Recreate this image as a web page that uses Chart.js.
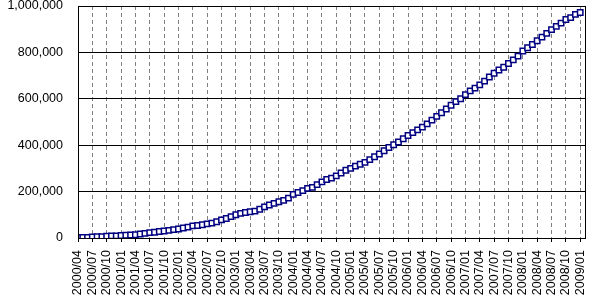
<!DOCTYPE html>
<html>
<head>
<meta charset="utf-8">
<script src="https://cdn.jsdelivr.net/npm/chart.js@4/dist/chart.umd.min.js"></script>
<style>
  html, body { margin: 0; padding: 0; background: #fff; }
  #wrap { width: 600px; height: 300px; }
</style>
</head>
<body>
<div id="wrap"><canvas id="myChart"></canvas></div>
<script>
// tick labels, one every 3 months starting 2000/04
const tickLabels = [
  '2000/04','2000/07','2000/10','2001/01','2001/04','2001/07','2001/10',
  '2002/01','2002/04','2002/07','2002/10','2003/01','2003/04','2003/07','2003/10',
  '2004/01','2004/04','2004/07','2004/10','2005/01','2005/04','2005/07','2005/10',
  '2006/01','2006/04','2006/07','2006/10','2007/01','2007/04','2007/07','2007/10',
  '2008/01','2008/04','2008/07','2008/10','2009/01'
]
// monthly totals, 2000/04 .. 2009/01
const monthlyValues = [
  1000, 2000, 2000, 5000, 6000, 6000, 8000, 9000, 9000, 11000,
  12000, 13000, 14000, 17000, 20000, 23000, 25000, 28000, 30000, 33000,
  36000, 39000, 43000, 47000, 52000, 54000, 57000, 61000, 64000, 70000,
  78000, 84000, 92000, 100000, 106000, 110000, 113000, 116000, 124000, 134000,
  142000, 149000, 156000, 162000, 172000, 188000, 196000, 204000, 214000, 218000,
  230000, 242000, 252000, 258000, 268000, 280000, 292000, 300000, 310000, 318000,
  326000, 338000, 350000, 362000, 376000, 390000, 402000, 414000, 428000, 442000,
  454000, 466000, 478000, 492000, 508000, 524000, 540000, 556000, 572000, 588000,
  600000, 618000, 634000, 646000, 660000, 676000, 694000, 710000, 724000, 736000,
  752000, 768000, 784000, 806000, 820000, 834000, 850000, 866000, 882000, 898000,
  912000, 926000, 942000, 950000, 964000, 972000
]
const yMax = 1000000
const yStep = 200000

const points = monthlyValues.map((v, i) => ({x: i, y: v}))

// frame around plot area (right edge)
const frame = {
    id: 'frame',
    afterDraw(chart) {
        const a = chart.chartArea
        const c = chart.ctx
        c.save()
        c.strokeStyle = '#000'
        c.lineWidth = 1
        c.strokeRect(Math.round(a.left) + 0.5, Math.round(a.top) + 0.5,
            Math.round(a.right - a.left), Math.round(a.bottom - a.top))
        c.restore()
    }
}

const ctx = document.getElementById('myChart')
new Chart(ctx, {
    type: 'line',
    data: {
        datasets: [{
            data: points,
            borderColor: '#000080',
            borderWidth: 1,
            pointStyle: 'rect',
            pointRadius: 3.8,
            pointBorderWidth: 1.5,
            pointBorderColor: '#000080',
            pointBackgroundColor: '#ffffff',
            tension: 0
        }]
    },
    options: {
        responsive: true,
        maintainAspectRatio: false,
        animation: false,
        layout: { padding: { top: 6, right: 15, left: 0, bottom: 0 } },
        plugins: {
            legend: { display: false },
            tooltip: { enabled: false }
        },
        scales: {
            x: {
                type: 'linear',
                min: 0,
                max: monthlyValues.length,
                afterBuildTicks: (scale) => {
                    scale.ticks = tickLabels.map((t, k) => ({value: k * 3}))
                },
                afterFit: (scale) => {
                    scale.height = 62
                    scale.paddingLeft = 0
                    scale.paddingRight = 0
                },
                grid: {
                    color: '#808080',
                    lineWidth: 1,
                    tickLength: 4,
                    tickColor: '#000'
                },
                border: { color: '#000', width: 1, dash: [4, 3] },
                ticks: {
                    autoSkip: false,
                    maxRotation: 90,
                    minRotation: 90,
                    padding: 8,
                    color: '#000',
                    font: { family: 'Liberation Sans', size: 12.5 },
                    callback: (v) => tickLabels[v / 3]
                }
            },
            y: {
                min: 0,
                max: yMax,
                afterFit: (scale) => {
                    scale.width = 78
                    scale.paddingTop = 0
                    scale.paddingBottom = 0
                },
                grid: {
                    color: '#000',
                    lineWidth: 1,
                    drawTicks: false
                },
                border: { color: '#000', width: 1 },
                ticks: {
                    stepSize: yStep,
                    padding: 15,
                    color: '#000',
                    font: { family: 'Liberation Sans', size: 12.5 },
                    callback: (v) => v.toLocaleString('en-US')
                }
            }
        }
    },
    plugins: [frame]
})
</script>
</body>
</html>
